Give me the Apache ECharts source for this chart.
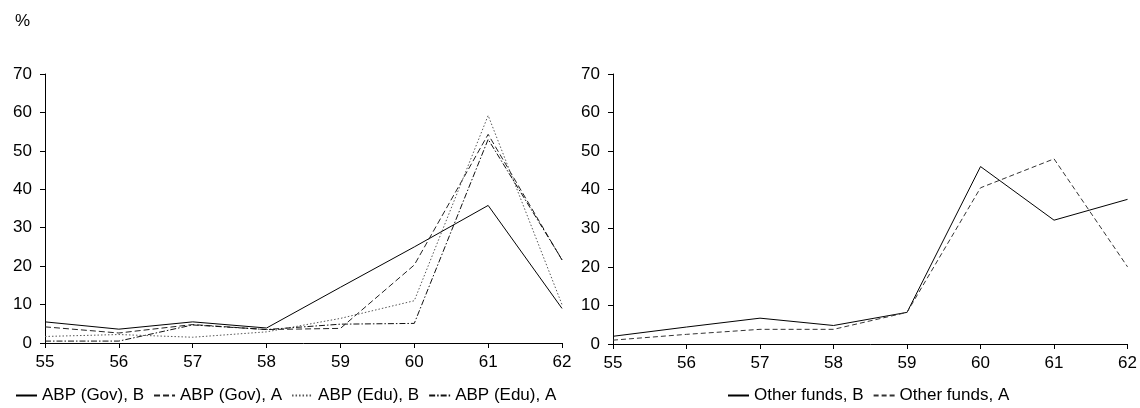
<!DOCTYPE html>
<html><head><meta charset="utf-8">
<script src="https://cdn.jsdelivr.net/npm/echarts@6/dist/echarts.min.js"></script>
<style>html,body{margin:0;padding:0;background:#fff}#c{width:1140px;height:408px}</style>
</head><body><div id="c"></div>
<script>
const categories = ['55','56','57','58','59','60','61','62'];
const yTicks = [0,10,20,30,40,50,60,70];
const govB  = [5.5, 3.6, 5.5, 3.9, 14.5, 25.0, 35.8, 9.0];
const govA  = [4.2, 2.6, 4.8, 3.5, 3.8, 20.3, 54.3, 21.6];
const eduB  = [1.7, 2.2, 1.5, 2.9, 6.4, 11.0, 59.2, 10.0];
const eduA  = [0.5, 0.5, 4.7, 3.5, 4.9, 5.1, 53.0, 21.7];
const othB  = [2.0, 4.4, 6.7, 4.8, 8.2, 46.0, 32.1, 37.5];
const othA  = [1.0, 2.5, 3.8, 3.8, 8.2, 40.5, 48.0, 20.0];

const chart = echarts.init(document.getElementById('c'));
const FF = 'Liberation Sans, Arial, sans-serif';
const font = {fontFamily:FF, fontSize:17, color:'#000'};
function xAx(gi){return {type:'category', gridIndex:gi, data:categories, boundaryGap:false,
  axisLine:{lineStyle:{color:'#000',width:1}}, axisTick:{show:true,length:5,lineStyle:{color:'#000'}},
  axisLabel:Object.assign({margin:11},font), splitLine:{show:false}};}
function yAx(gi){return {type:'value', gridIndex:gi, min:yTicks[0], max:yTicks[yTicks.length-1], interval:10,
  axisLine:{show:true,lineStyle:{color:'#000',width:1}}, axisTick:{show:true,length:5,lineStyle:{color:'#000'}},
  axisLabel:Object.assign({margin:13},font), splitLine:{show:false}};}
function ser(name, data, gi, type, color){return {name, type:'line', xAxisIndex:gi, yAxisIndex:gi, data,
  symbol:'none', lineStyle:{color, width:1, type}, itemStyle:{color}, silent:true, animation:false};}
const legBase = {top:387, padding:0, itemWidth:21, itemHeight:10, itemGap:9, itemStyle:{opacity:0},
  textStyle:Object.assign({padding:[0,0,0,0]},font)};
chart.setOption({
  animation:false,
  textStyle:{fontFamily:FF},
  graphic:[{type:'text', left:15, top:13, style:{text:'%', font:'17px Liberation Sans, Arial', fill:'#000'}}],
  grid:[{left:45, top:74, width:517, height:269},{left:613, top:74, width:517, height:270}],
  xAxis:[xAx(0), xAx(1)],
  yAxis:[yAx(0), yAx(1)],
  legend:[
    Object.assign({data:['ABP (Gov), B','ABP (Gov), A','ABP (Edu), B','ABP (Edu), A'], left:15}, legBase),
    Object.assign({data:['Other funds, B','Other funds, A'], left:727}, legBase)
  ],
  series:[
    ser('ABP (Gov), B', govB, 0, 'solid', '#000'),
    ser('ABP (Gov), A', govA, 0, [6,3], '#222'),
    ser('ABP (Edu), B', eduB, 0, [1.5,2], '#555'),
    ser('ABP (Edu), A', eduA, 0, [6,2,1.5,2], '#111'),
    ser('Other funds, B', othB, 1, 'solid', '#000'),
    ser('Other funds, A', othA, 1, [5,3], '#333')
  ]
});
</script></body></html>
